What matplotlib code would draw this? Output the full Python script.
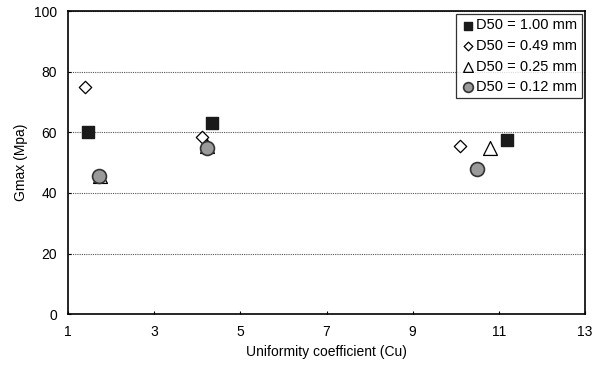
import matplotlib.pyplot as plt

plt.rcParams['font.family'] = ['Liberation Sans', 'DejaVu Sans']

# Gmax vs uniformity coefficient for four mean grain sizes
cu_100 = [1.45, 4.35, 11.2]
g_100 = [60, 63, 57.5]
cu_049 = [1.38, 4.1, 10.1]
g_049 = [75, 58.5, 55.5]
cu_025 = [1.74, 4.22, 10.8]
g_025 = [45.5, 55.5, 55]
cu_012 = [1.72, 4.22, 10.5]
g_012 = [45.5, 55, 48]

fig, ax = plt.subplots(figsize=(5.98, 3.71), dpi=100)
fig.subplots_adjust(left=0.114, right=0.978, top=0.97, bottom=0.153)

ax.scatter(cu_100, g_100, marker='s', s=85, color='#1a1a1a', edgecolor='#1a1a1a',
           label='D50 = 1.00 mm', zorder=3)
ax.scatter(cu_049, g_049, marker='D', s=40, color='white', edgecolor='black',
           linewidth=0.9, label='D50 = 0.49 mm', zorder=3)
ax.scatter(cu_025, g_025, marker='^', s=100, color='white', edgecolor='black',
           linewidth=0.9, label='D50 = 0.25 mm', zorder=3)
ax.scatter(cu_012, g_012, marker='o', s=100, color='#9a9a9a', edgecolor='#333333',
           linewidth=1.2, label='D50 = 0.12 mm', zorder=4)

ax.set_xlim(1, 13)
ax.set_ylim(0, 100)
ax.set_xticks([1, 3, 5, 7, 9, 11, 13])
ax.set_yticks([0, 20, 40, 60, 80, 100])
ax.yaxis.grid(True, linestyle=(0, (1, 1)), color='#555555', linewidth=0.8)
ax.set_axisbelow(True)
ax.tick_params(axis='both', direction='in', length=2, labelsize=10, pad=8)

for sp in ax.spines.values():
    sp.set_linewidth(1.2)

ax.set_xlabel('Uniformity coefficient (Cu)', fontsize=10)
ax.set_ylabel('Gmax (Mpa)', fontsize=10)

leg = ax.legend(loc='upper right', fontsize=10.5, frameon=True, fancybox=False,
                edgecolor='black', handletextpad=0.1, borderpad=0.3,
                labelspacing=0.45, markerscale=0.7, handlelength=1.0,
                borderaxespad=0.2)
leg.get_frame().set_linewidth(0.9)

fig.savefig('out.png', dpi=100)
